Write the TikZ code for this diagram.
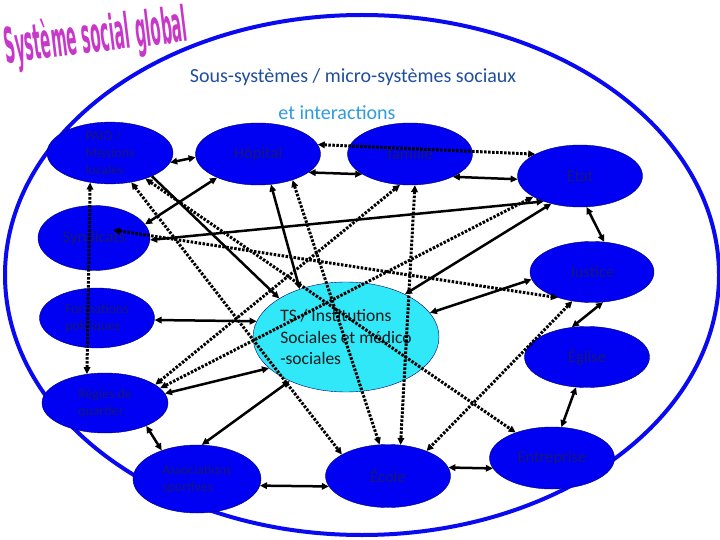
\documentclass[tikz,border=0pt]{standalone}
\usepackage{fontspec}
\setmainfont{Carlito}
\newfontfamily\wordart{DejaVu Sans}
\usetikzlibrary{shapes.geometric,arrows.meta,calc,positioning}

\definecolor{nodeblue}{HTML}{0000F2}
\definecolor{nodeedge}{HTML}{00006E}
\definecolor{nodetext}{HTML}{17177A}
\definecolor{tscyan}{HTML}{30E8F8}
\definecolor{ringblue}{HTML}{0A0AF0}
\definecolor{subdark}{HTML}{1F4E9E}
\definecolor{sublight}{HTML}{2E9BE0}
\definecolor{titlepink}{HTML}{C838C8}

\begin{document}
\begin{tikzpicture}[
    x=1pt, y=-1pt,
    >={Triangle[length=7pt,width=6.5pt]},
    blob/.style  = {ellipse, draw=nodeedge, thin, fill=nodeblue, inner sep=0pt,
                    minimum width=125pt, minimum height=62pt,
                    text=nodetext, font=\fontsize{16.5}{19}\selectfont},
    small/.style = {font=\fontsize{13.8}{17}\selectfont, align=left},
    link/.style  = {line width=2.5pt, <->},
    dlink/.style = {line width=3pt, <->, dash pattern=on 2.5pt off 1.5pt}
  ]
  \useasboundingbox (0,0) rectangle (720,540);

  % big ring round the whole system
  \draw[ringblue, line width=4pt] (362,275) ellipse [x radius=357pt, y radius=260pt];

  % title
  \begin{scope}[shift={(96,38)}, rotate=7, xscale=0.75, yscale=2.45, transform shape]
    \node[font=\wordart\bfseries\fontsize{20}{20}\selectfont, text=titlepink] (title) at (0,0) {Système social global};
  \end{scope}

  \node[font=\fontsize{20}{24}\selectfont, text=subdark] (sub1) at (353,77) {Sous-systèmes / micro-systèmes sociaux};
  \node[font=\fontsize{20}{24}\selectfont, text=sublight] (sub2) at (337,113) {et interactions};

  % sub-systems
  \node[blob, minimum width=126pt, minimum height=61pt, small] (paio) at (110,153) {PAIO /\\Missions\\locales};
  \node[blob] (hop)  at (258,154) {Hôpital\hspace{20pt}};
  \node[blob] (fam)  at (410,154) {famille\hspace{20pt}};
  \node[blob] (etat) at (580,176) {Etat};
  \node[blob, minimum width=112pt, minimum height=65pt] (syn) at (94,238) {Syndicats\hspace{26pt}};
  \node[blob, minimum width=124pt, minimum height=61pt] (jus) at (592,272) {Justice\hspace{28pt}};
  \node[blob, minimum width=115pt, minimum height=60pt, small] (form) at (97,318) {Formations\\politiques};
  \node[blob, fill=tscyan, minimum width=186pt, minimum height=110pt, text=black!90,
        font=\fontsize{17.5}{21.5}\selectfont, align=left] (ts) at (346,337)
        {TS / Institutions\\Sociales et médico\\-sociales};
  \node[blob, minimum height=61pt] (egl) at (587,357) {Église\hspace{24pt}};
  \node[blob, minimum width=126pt, minimum height=60pt, small] (reg) at (105,403) {Régies de\\quartier};
  \node[blob, minimum width=128pt, minimum height=68pt, small] (asso) at (197,479) {Associations\\sportives};
  \node[blob, minimum height=63pt] (eco) at (388,476) {École\hspace{24pt}};
  \node[blob] (ent)  at (552,458) {Entreprise\hspace{8pt}};

  % solid interactions
  \foreach \a/\b in {paio.-9/hop.183, hop.-20/fam.203, fam.-28/etat.183,
                     syn.-2/etat.215, syn.15/hop.210, hop.-67/ts.134,
                     ts.36/etat.224, ts.16/jus.187, form.-2/ts.170,
                     reg.9/ts.202, asso.82/ts.218, reg.-29/asso.141,
                     asso.-6/eco.190, eco.8/ent.190, etat.-78/jus.68,
                     jus.-70/egl.117, egl.250/ent.73}
    \draw[link] (\a) -- (\b);
  \draw[line width=2.5pt, ->] (paio.-29) -- (ts.150);

  % dotted interactions
  \foreach \a/\b in {hop.9/etat.154, paio.-54/eco.155, hop.-37/eco.105,
                     fam.-81/eco.68, jus.236/eco.33, reg.20/fam.252,
                     reg.15/etat.204, paio.-36/ent.145, paio.236/reg.122}
    \draw[dlink] (\a) -- (\b);
  \draw[dlink] ($(syn)+(19,-8)$) -- (jus.217);

\end{tikzpicture}
\end{document}
